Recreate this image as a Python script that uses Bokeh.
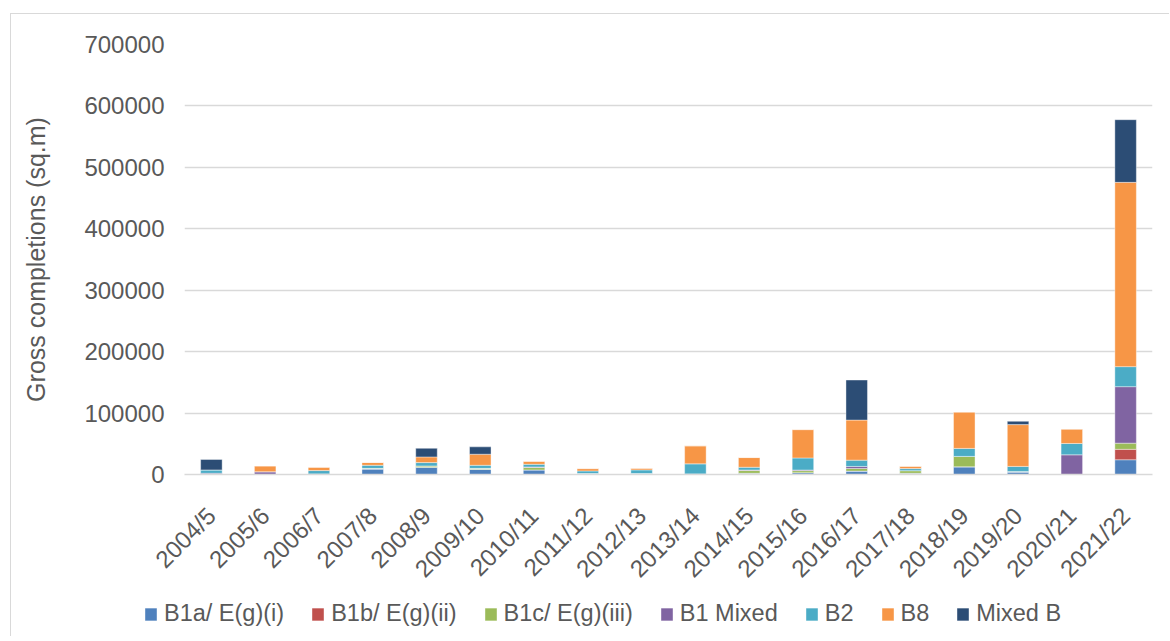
import math
from bokeh.plotting import figure
from bokeh.layouts import column
from bokeh.models import FactorRange, Range1d, SingleIntervalTicker, BasicTickFormatter, Legend
from bokeh.embed import file_html
from bokeh.resources import INLINE

years = ["2004/5", "2005/6", "2006/7", "2007/8", "2008/9", "2009/10", "2010/11", "2011/12",
         "2012/13", "2013/14", "2014/15", "2015/16", "2016/17", "2017/18", "2018/19",
         "2019/20", "2020/21", "2021/22"]

b1a = [0, 0, 1000, 9000, 12000, 8500, 7500, 1500, 1500, 1000, 2000, 3000, 5500, 2000, 12500, 4000, 0, 24000]
b1b = [0, 0, 0, 0, 0, 0, 0, 0, 0, 0, 0, 0, 0, 0, 0, 0, 0, 17000]
b1c = [0, 0, 0, 1000, 2000, 1500, 3800, 0, 0, 0, 4400, 3300, 4300, 4300, 17000, 1000, 0, 10000]
b1_mixed = [2000, 4500, 0, 0, 0, 0, 1000, 0, 0, 0, 1000, 1000, 3300, 0, 0, 0, 32000, 92000]
b2 = [5500, 0, 5400, 5000, 5400, 5000, 4300, 4300, 6000, 16300, 4400, 19600, 10300, 3300, 13000, 8200, 18500, 32600]
b8 = [0, 9500, 5500, 4500, 9200, 18000, 4900, 3800, 2700, 29400, 15800, 46200, 65200, 3800, 59200, 68000, 23400, 300000]
mixed_b = [17000, 0, 0, 0, 14000, 12000, 0, 0, 0, 0, 0, 0, 65200, 0, 0, 5400, 0, 102000]

series_keys = ["b1a", "b1b", "b1c", "b1_mixed", "b2", "b8", "mixed_b"]
series_labels = ["B1a/ E(g)(i)", "B1b/ E(g)(ii)", "B1c/ E(g)(iii)", "B1 Mixed", "B2", "B8", "Mixed B"]
colors = ["#4F81BD", "#C0504D", "#9BBB59", "#8064A2", "#4BACC6", "#F79646", "#2C4D75"]

source = dict(years=years, b1a=b1a, b1b=b1b, b1c=b1c, b1_mixed=b1_mixed, b2=b2, b8=b8, mixed_b=mixed_b)

FONT = "Liberation Sans"
TXT = "#595959"
W = 1158

p = figure(x_range=FactorRange(factors=years, range_padding=0), y_range=Range1d(0, 700000),
           width=W, height=582, output_backend="svg", toolbar_location=None,
           min_border_left=173, min_border_right=17, min_border_top=30, min_border_bottom=122)
p.outline_line_color = None
p.background_fill_color = "white"
p.border_fill_color = "white"

p.vbar_stack(series_keys, x="years", width=0.4, source=source, color=colors,
             line_color="white", line_alpha=0.5, line_width=0.8)

p.xgrid.grid_line_color = None
p.ygrid.grid_line_color = "#d9d9d9"
p.ygrid.grid_line_width = 1.3
p.yaxis.ticker = SingleIntervalTicker(interval=100000)
p.ygrid.ticker = SingleIntervalTicker(interval=100000)
p.yaxis.formatter = BasicTickFormatter(use_scientific=False)
p.yaxis.axis_line_color = None
p.yaxis.major_tick_line_color = None
p.yaxis.major_tick_out = 0
p.yaxis.minor_tick_line_color = None
p.yaxis.minor_tick_out = 0
p.yaxis.major_label_standoff = 20
p.yaxis.major_label_text_font = FONT
p.yaxis.major_label_text_font_size = "24px"
p.yaxis.major_label_text_color = TXT
p.yaxis.axis_label = "Gross completions (sq.m)"
p.yaxis.axis_label_text_font = FONT
p.yaxis.axis_label_text_font_size = "25px"
p.yaxis.axis_label_text_font_style = "normal"
p.yaxis.axis_label_text_color = TXT
p.yaxis.axis_label_standoff = 31

p.xaxis.axis_line_color = "#d9d9d9"
p.xaxis.axis_line_width = 1.5
p.xaxis.major_tick_line_color = None
p.xaxis.major_tick_out = 0
p.xaxis.minor_tick_line_color = None
p.xaxis.minor_tick_out = 0
p.xaxis.major_label_orientation = math.pi / 4
p.xaxis.major_label_text_font = FONT
p.xaxis.major_label_text_font_size = "24px"
p.xaxis.major_label_text_color = TXT
p.xaxis.major_label_standoff = 37

# legend strip underneath: same series, drawn against a y-range that keeps the bars out of view
lf = figure(width=W, height=40, x_range=FactorRange(factors=years, range_padding=0),
            y_range=Range1d(1e7, 2e7), output_backend="svg", toolbar_location=None, min_border=0,
            x_axis_location=None, y_axis_location=None)
if hasattr(lf, "frame_align"):
    lf.frame_align = False
lf.grid.visible = False
lf.outline_line_color = None
lf.border_fill_color = "white"
lf.background_fill_color = "white"
legend_rs = lf.vbar_stack(series_keys, x="years", width=0.4, source=source, color=colors,
                          line_color="white", line_alpha=0.5, line_width=0.8)
legend = Legend(items=[(lab, [r]) for lab, r in zip(series_labels, legend_rs)],
                orientation="horizontal", location=(132, 9))
legend.label_text_font = FONT
legend.label_text_font_size = "23.5px"
legend.label_text_color = TXT
legend.glyph_width = 15
legend.glyph_height = 16
legend.label_standoff = 6
legend.spacing = 26
legend.padding = 0
legend.margin = 0
legend.border_line_color = None
legend.background_fill_alpha = 0
lf.add_layout(legend, "center")

layout = column(p, lf, spacing=0,
                styles={"border-left": "1px solid #d9d9d9", "border-top": "1px solid #d9d9d9",
                        "margin-left": "10px", "margin-top": "13px"})

open("out.html", "w").write(file_html(layout, INLINE))
